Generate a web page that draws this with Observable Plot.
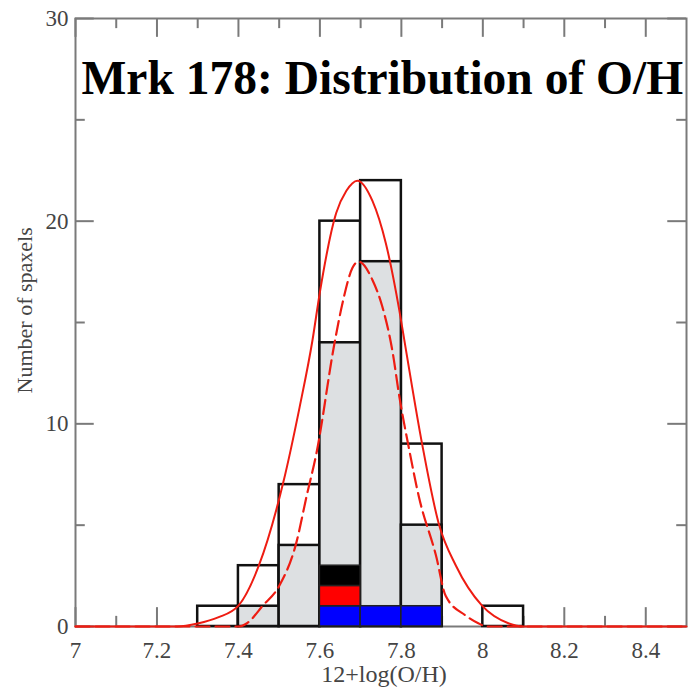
<!DOCTYPE html>
<html><head><meta charset="utf-8">
<script src="https://cdn.jsdelivr.net/npm/d3@7"></script>
<script src="https://cdn.jsdelivr.net/npm/@observablehq/plot@0.6"></script>
<style>body{margin:0;background:#fff}</style>
</head><body><div id="chart"></div>
<script>
// Histogram bins (lower edge, width 0.1)
const binLo    = [7.3, 7.4, 7.5, 7.6, 7.7, 7.8, 8.0];
const binTotal = [1,   3,   7,   20,  22,  9,   1];
const binGrey  = [0,   1,   4,   14,  18,  5,   0];
const binWidth = 0.1;

// Coloured sub-bins
const segLo    = [7.6, 7.7, 7.8, 7.6, 7.6];
const segBase  = [0,   0,   0,   1,   2];
const segTop   = [1,   1,   1,   2,   3];
const segClass = ["blue", "blue", "blue", "red", "black"];

// Gaussian fit curves
const solidX = [7.0, 7.25, 7.30, 7.35, 7.40, 7.45, 7.51, 7.55, 7.582, 7.60, 7.64, 7.665, 7.692, 7.729, 7.762, 7.795, 7.81, 7.851, 7.892, 7.934, 7.998, 8.064, 8.10, 8.5];
const solidY = [0,   0,    0.15, 0.45, 1.03, 3.0,  7.1,  10.8, 14.15, 16.5, 20.4, 21.5,  22.0,  21.0,  18.9,  15.6,  13.8, 9.0,   5.06,  3.0,   1.03,  0.15,  0,    0];
const dashX  = [7.0, 7.40, 7.42, 7.46, 7.50, 7.543, 7.567, 7.592, 7.636, 7.656, 7.68, 7.695, 7.729, 7.753, 7.778, 7.795, 7.819, 7.843, 7.885, 7.909, 7.958, 7.99, 8.01, 8.5];
const dashY  = [0,   0,    0.15, 1.03, 2.0,  4.2,   6.4,   8.6,   14.0,  16.0,  17.7, 18.0,  17.1,  15.8,  13.6,  11.35, 8.75,  6.4,   3.5,   1.5,   0.54,  0.15, 0,    0];

// Ticks
const xMajor = [7, 7.2, 7.4, 7.6, 7.8, 8, 8.2, 8.4];
const xMinor = [7.1, 7.3, 7.5, 7.7, 7.9, 8.1, 8.3];
const xLabels = ["7", "7.2", "7.4", "7.6", "7.8", "8", "8.2", "8.4"];
const yMajor = [0, 10, 20, 30];
const yMinor = [5, 15, 25];

const titleText = "Mrk 178: Distribution of O/H";
const xTitle = "12+log(O/H)";
const yTitle = "Number of spaxels";

const bins = binLo.map((lo, i) => ({x1: lo, x2: lo + binWidth, total: binTotal[i], grey: binGrey[i]}));
const segs = segLo.map((lo, i) => ({x1: lo, x2: lo + binWidth, y1: segBase[i], y2: segTop[i], c: segClass[i]}));
const solid = solidX.map((x, i) => ({x, y: solidY[i]}));
const dashed = dashX.map((x, i) => ({x, y: dashY[i]}));

const serif = "Liberation Serif, Times New Roman, serif";
const axisCol = "#7a7a7a";
const labelCol = "#444";
const majX = 0.046, minX = 0.024, majY = 0.93, minY = 0.5;

const chart = Plot.plot({
  width: 688, height: 687,
  marginLeft: 75, marginRight: 2, marginTop: 18, marginBottom: 61,
  style: {fontFamily: serif, background: "#fff"},
  x: {domain: [7, 8.5], axis: null},
  y: {domain: [0, 30], axis: null},
  color: {domain: ["blue", "red", "black"], range: ["#1f1ff5", "#fa1e0a", "#000000"]},
  marks: [
    Plot.frame({stroke: axisCol, strokeWidth: 2}),
    // ticks (inside)
    Plot.ruleX(xMajor, {x: d => d, y1: 0, y2: majY, stroke: axisCol, strokeWidth: 2}),
    Plot.ruleX(xMinor, {x: d => d, y1: 0, y2: minY, stroke: axisCol, strokeWidth: 2}),
    Plot.ruleX(xMajor, {x: d => d, y1: 30, y2: 30 - majY, stroke: axisCol, strokeWidth: 2}),
    Plot.ruleX(xMinor, {x: d => d, y1: 30, y2: 30 - minY, stroke: axisCol, strokeWidth: 2}),
    Plot.ruleY(yMajor, {y: d => d, x1: 7, x2: 7 + majX, stroke: axisCol, strokeWidth: 2}),
    Plot.ruleY(yMinor, {y: d => d, x1: 7, x2: 7 + minX, stroke: axisCol, strokeWidth: 2}),
    Plot.ruleY(yMajor, {y: d => d, x1: 8.5, x2: 8.5 - majX, stroke: axisCol, strokeWidth: 2}),
    Plot.ruleY(yMinor, {y: d => d, x1: 8.5, x2: 8.5 - minX, stroke: axisCol, strokeWidth: 2}),
    // histogram
    Plot.rect(bins, {x1: "x1", x2: "x2", y1: 0, y2: "total", fill: "#fff", stroke: "#111", strokeWidth: 2.5}),
    Plot.rect(bins.filter(d => d.grey > 0), {x1: "x1", x2: "x2", y1: 0, y2: "grey", fill: "#dde0e2", stroke: "#111", strokeWidth: 2.5}),
    Plot.rect(segs, {x1: "x1", x2: "x2", y1: "y1", y2: "y2", fill: "c", stroke: "#222", strokeWidth: 1.5}),
    // fits
    Plot.line(dashed, {x: "x", y: "y", curve: "monotone-x", stroke: "#ee1c12", strokeWidth: 2.2, strokeDasharray: "14,6"}),
    Plot.line(solid, {x: "x", y: "y", curve: "monotone-x", stroke: "#ee1c12", strokeWidth: 2}),
    // axis labels
    Plot.axisX({ticks: xMajor, tickFormat: (d, i) => xLabels[i], tickSize: 0, tickPadding: 15, fontSize: 23, color: labelCol}),
    Plot.axisY({ticks: yMajor, tickSize: 0, tickPadding: 7, fontSize: 23, color: labelCol}),
    Plot.text([xTitle], {frameAnchor: "bottom", dx: 3, dy: 55, lineAnchor: "bottom", fontSize: 24, fill: labelCol}),
    Plot.text([yTitle], {x: [6.894], y: [15.6], rotate: -90, lineAnchor: "bottom", fontSize: 22, fill: labelCol}),
    Plot.text([titleText], {frameAnchor: "top-left", dx: 6, dy: 75, lineAnchor: "bottom", textAnchor: "start", fontSize: 47.5, fontWeight: "bold", fill: "#000"})
  ]
});
document.getElementById("chart").append(chart);
</script>
</body></html>
